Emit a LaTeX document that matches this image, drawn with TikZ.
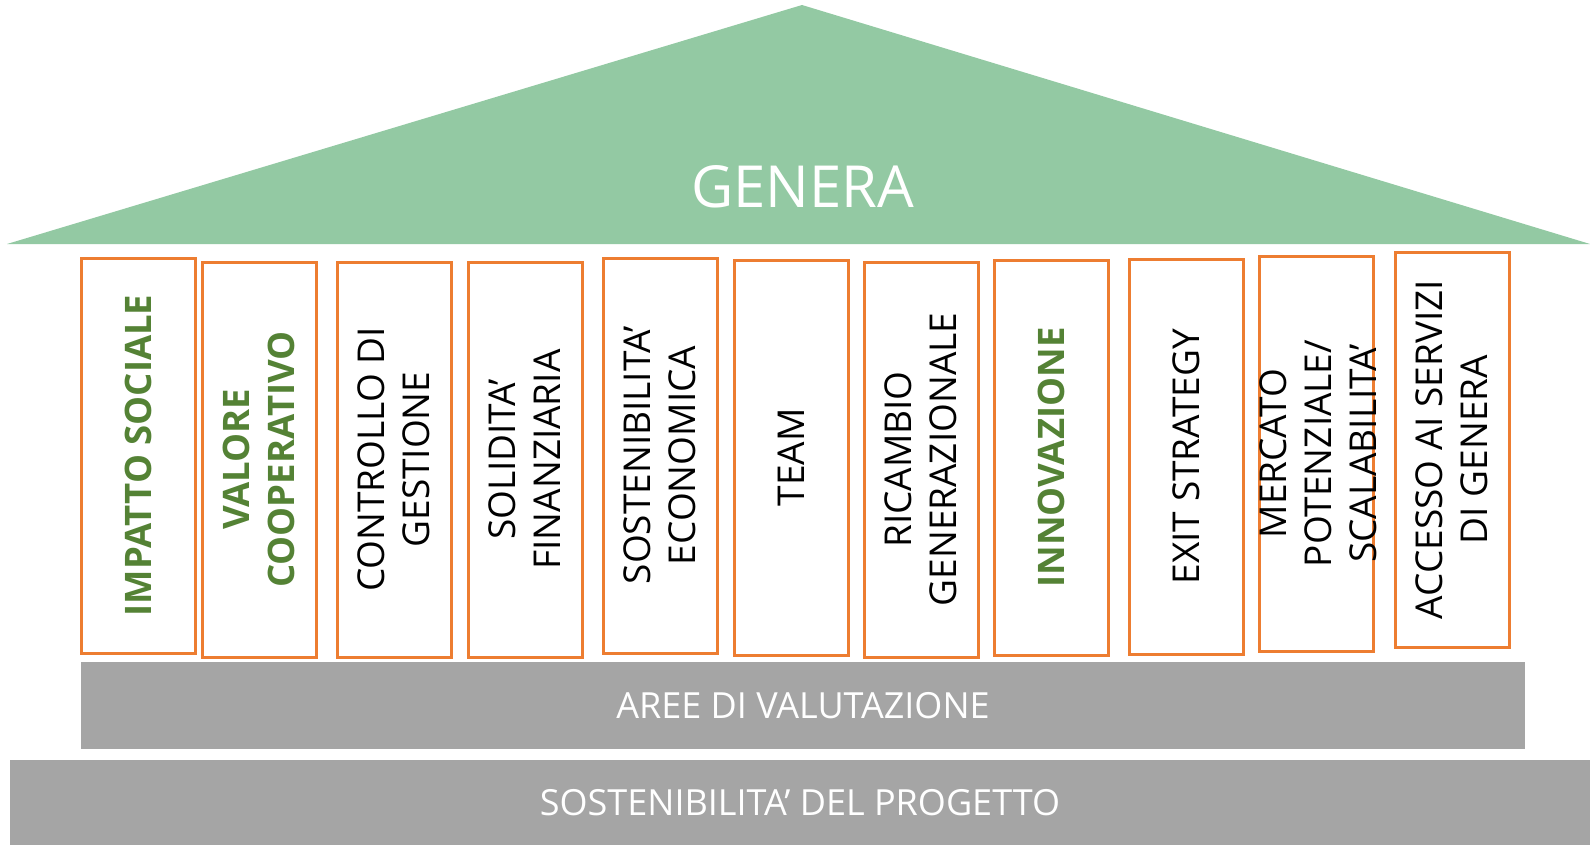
\documentclass[tikz,border=0pt]{standalone}
\usepackage{fontspec}
\setmainfont{Open Sans}
\definecolor{roofgreen}{RGB}{147,201,163}
\definecolor{pillarorange}{RGB}{237,125,49}
\definecolor{keygreen}{RGB}{84,130,53}
\definecolor{basegray}{RGB}{165,165,165}

\begin{document}
\begin{tikzpicture}[x=1pt, y=-1pt,
    pillar/.style={draw=pillarorange, line width=3pt, minimum width=114pt, minimum height=395pt, inner sep=0pt},
    pillartext/.style={rotate=90, align=center, inner sep=0pt, font=\fontsize{37}{45}\selectfont},
    keytext/.style={pillartext, text=keygreen, font=\fontsize{36.5}{45}\selectfont\bfseries},
    basebar/.style={fill=basegray, inner sep=0pt, text=white, font=\fontsize{36}{44}\selectfont}]

    \useasboundingbox (0,0) rectangle (1590,845);

    % Roof
    \fill[roofgreen] (7,244) -- (802,5) -- (1590,244) -- cycle;
    \node[text=white, font=\fontsize{58}{70}\selectfont, inner sep=0pt] (roof) at (803,187) {GENERA};

    % Pillars
    \node[pillar] (c1) at (138,455.5) {};
    \node[pillar] (c2) at (259,459.5) {};
    \node[pillar] (c3) at (394,459.5) {};
    \node[pillar] (c4) at (525,459.5) {};
    \node[pillar] (c5) at (660,455.5) {};
    \node[pillar] (c6) at (791,457.5) {};
    \node[pillar] (c7) at (921,459.5) {};
    \node[pillar] (c8) at (1051,457.5) {};
    \node[pillar] (c9) at (1186,456.5) {};
    \node[pillar] (c10) at (1316,453.5) {};
    \node[pillar] (c11) at (1452,449.5) {};

    % Pillar labels
    \node[keytext] (t1) at (c1) {IMPATTO SOCIALE};
    \node[keytext] (t2) at (c2) {VALORE\\COOPERATIVO};
    \node[pillartext] (t3) at (c3) {CONTROLLO DI\\GESTIONE};
    \node[pillartext] (t4) at (c4) {SOLIDITA’\\FINANZIARIA};
    \node[pillartext] (t5) at (c5) {SOSTENIBILITA’\\ECONOMICA};
    \node[pillartext] (t6) at (c6) {TEAM};
    \node[pillartext] (t7) at (c7) {RICAMBIO\\GENERAZIONALE};
    \node[keytext] (t8) at (c8) {INNOVAZIONE};
    \node[pillartext] (t9) at (c9) {EXIT STRATEGY};
    \node[pillartext] (t10) at ([xshift=2pt]c10) {MERCATO\\POTENZIALE/\\SCALABILITA’};
    \node[pillartext] (t11) at (c11) {ACCESSO AI SERVIZI\\DI GENERA};

    % Base
    \node[basebar, minimum width=1444pt, minimum height=87pt] (areas) at (803,705.5) {AREE DI VALUTAZIONE};
    \node[basebar, minimum width=1580pt, minimum height=85pt] (ground) at (800,802.5) {SOSTENIBILITA’ DEL PROGETTO};
\end{tikzpicture}
\end{document}
